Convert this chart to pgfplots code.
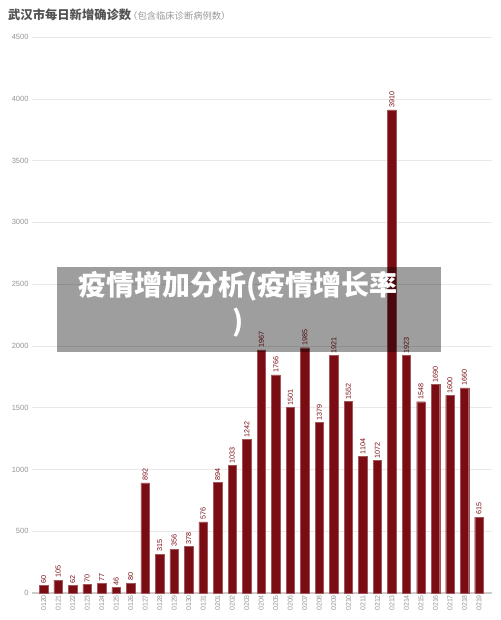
\documentclass[border=0pt]{standalone}
\usepackage{fontspec}
\setmainfont{Liberation Sans}
\newfontfamily\cjk{Noto Sans CJK SC}
\usepackage{pgfplots}
\usepackage{pgfplotstable}
\pgfplotsset{compat=1.18}
\definecolor{barred}{RGB}{122,13,20}
\definecolor{lbl}{RGB}{150,150,150}
\pgfplotstableread{
x val
0 60
1 105
2 62
3 70
4 77
5 46
6 80
7 892
8 315
9 356
10 378
11 576
12 894
13 1033
14 1242
15 1967
16 1766
17 1501
18 1985
19 1379
20 1921
21 1552
22 1104
23 1072
24 3910
25 1923
26 1548
27 1690
28 1600
29 1660
30 615
}\data
\begin{document}
\begin{tikzpicture}
\useasboundingbox[fill=white] (0,0) rectangle (500pt,620pt);
\begin{axis}[
  at={(32pt,27pt)}, anchor=south west,
  scale only axis, width=460pt, height=556pt,
  xmin=-0.8, xmax=30.9, ymin=0, ymax=4500,
  ytick={0,500,...,4500},
  xtick={0,...,30},
  xticklabels={0120,0121,0122,0123,0124,0125,0126,0127,0128,0129,0130,0131,0201,0202,0203,0204,0205,0206,0207,0208,0209,0210,0211,0212,0213,0214,0215,0216,0217,0218,0219},
  major tick length=0pt,
  axis lines*=left,
  y axis line style={draw=none},
  x axis line style={draw=gray!40, line width=1.6pt},
  ymajorgrids, major grid style={draw=gray!18, line width=0.5pt},
  /pgf/number format/assume math mode=true,
  scaled y ticks=false,
  yticklabel style={font=\fontsize{7.5}{8}\selectfont, text=lbl, /pgf/number format/1000 sep={}},
  xticklabel style={font=\fontsize{7}{8}\selectfont, text=lbl, rotate=90, anchor=east, inner sep=2pt},
  ybar, bar width=8.5pt,
  nodes near coords,
  every node near coord/.append style={rotate=90, anchor=west, font=\fontsize{7.2}{8}\selectfont, text=barred, inner sep=2pt, /pgf/number format/1000 sep={}},
  clip=false,
]
\addplot[fill=barred, draw=barred!70!white, line width=0.3pt] table[x=x, y=val] {\data};
\end{axis}
\node[anchor=base west, inner sep=0, text=black!68] at (8pt,600pt) {\cjk\bfseries\fontsize{12.3}{14}\selectfont 武汉市每日新增确诊数};
\node[anchor=base west, inner sep=0, text=black!40] at (128pt,600pt) {\cjk\fontsize{9.3}{10}\selectfont （包含临床诊断病例数）};
\fill[black, opacity=0.38] (57pt,268pt) rectangle (441pt,353pt);
\node[align=center, text=white, font=\cjk\bfseries\fontsize{28}{36}\selectfont, anchor=north, inner sep=0pt] at (238pt,349pt) {疫情增加分析(疫情增长率\\)};
\end{tikzpicture}
\end{document}
